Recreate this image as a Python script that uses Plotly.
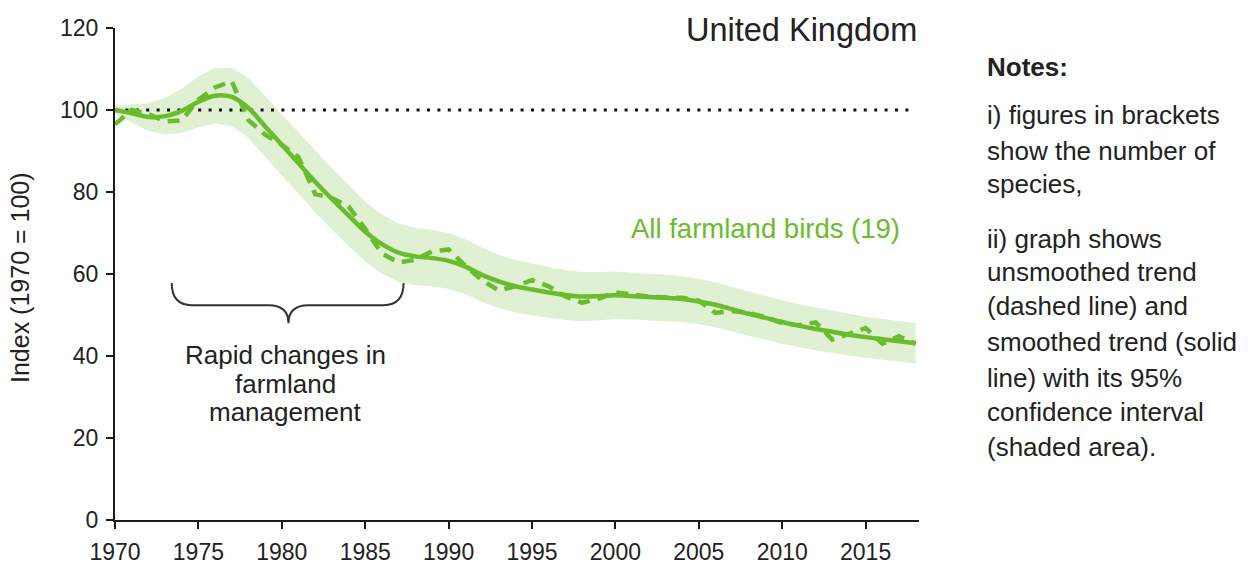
import plotly.graph_objects as go

# UK farmland bird index, 1970 = 100
years = list(range(1970, 2019))

smoothed = [100.0, 99.2, 98.3, 98.5, 99.8, 102.0, 103.5, 103.2, 100.5, 96.0,
            91.5, 87.0, 82.5, 78.3, 74.3, 70.3, 67.3, 65.2, 64.3, 63.9,
            63.2, 61.8, 59.8, 58.2, 57.0, 56.2, 55.5, 54.9, 54.5, 54.6,
            54.8, 54.6, 54.4, 54.2, 53.9, 53.3, 52.5, 51.4, 50.3, 49.3,
            48.3, 47.4, 46.6, 45.9, 45.2, 44.6, 44.1, 43.6, 43.1]

unsmoothed = [96.5, 100.0, 99.0, 97.2, 97.5, 102.5, 105.5, 107.0, 97.5, 94.0,
              91.5, 88.5, 79.5, 78.5, 76.5, 71.0, 65.0, 62.8, 63.5, 65.5,
              66.0, 62.0, 58.5, 56.0, 57.0, 58.5, 57.0, 54.5, 53.0, 54.0,
              55.5, 55.0, 54.5, 54.3, 54.2, 53.5, 50.5, 51.0, 50.5, 49.5,
              48.0, 47.5, 48.2, 44.0, 45.5, 46.8, 43.0, 44.8, 43.0]

ci_upper = [101.0, 101.4, 101.7, 103.0, 105.2, 108.2, 110.3, 110.3, 107.8, 103.4,
            99.0, 94.5, 90.0, 85.8, 81.7, 77.6, 74.5, 72.3, 71.3, 70.8,
            70.0, 68.5, 66.4, 64.7, 63.4, 62.5, 61.7, 61.0, 60.5, 60.5,
            60.6, 60.3, 60.1, 59.8, 59.5, 58.8, 58.0, 56.8, 55.7, 54.6,
            53.6, 52.6, 51.8, 51.0, 50.3, 49.6, 49.1, 48.5, 48.0]

ci_lower = [99.0, 97.0, 94.9, 94.0, 94.4, 95.8, 96.7, 96.1, 93.2, 88.6,
            84.0, 79.5, 75.0, 70.8, 66.9, 63.0, 60.1, 58.1, 57.3, 57.0,
            56.4, 55.1, 53.2, 51.7, 50.6, 49.9, 49.3, 48.8, 48.5, 48.7,
            49.0, 48.9, 48.7, 48.6, 48.3, 47.8, 47.0, 46.0, 44.9, 44.0,
            43.0, 42.2, 41.4, 40.8, 40.1, 39.6, 39.1, 38.7, 38.2]

baseline = 100
x_ticks = list(range(1970, 2016, 5))
y_ticks = list(range(0, 121, 20))

notes_lines = [
    ("<b>Notes:</b>", 67),
    ("i) figures in brackets", 115),
    ("show the number of", 151),
    ("species,", 184),
    ("ii) graph shows", 239),
    ("unsmoothed trend", 272),
    ("(dashed line) and", 306),
    ("smoothed trend (solid", 342),
    ("line) with its 95%", 378),
    ("confidence interval", 412),
    ("(shaded area).", 447),
]

GREEN = "#69BC2C"
BAND = "#E0F0D2"
INK = "#222222"
FONT = "Liberation Sans, Arial, sans-serif"

W, H = 1250, 566
ML, MR, MT, MB = 115, 331, 28, 46
plot_w = W - ML - MR
plot_h = H - MT - MB

fig = go.Figure()

# confidence band
fig.add_trace(go.Scatter(x=years, y=ci_lower, mode="lines",
                         line=dict(width=0, color=BAND), hoverinfo="skip",
                         showlegend=False))
fig.add_trace(go.Scatter(x=years, y=ci_upper, mode="lines", fill="tonexty",
                         fillcolor=BAND, line=dict(width=0, color=BAND),
                         hoverinfo="skip", showlegend=False))

# 1970 reference level
fig.add_trace(go.Scatter(x=[years[0], years[-1]], y=[baseline, baseline],
                         mode="lines",
                         line=dict(color="#111111", width=3, dash="3px,7.4px"),
                         hoverinfo="skip", showlegend=False))

# unsmoothed and smoothed trends
fig.add_trace(go.Scatter(x=years, y=unsmoothed, mode="lines",
                         line=dict(color=GREEN, width=4.5, dash="12px,8px"),
                         showlegend=False))
fig.add_trace(go.Scatter(x=years, y=smoothed, mode="lines",
                         line=dict(color=GREEN, width=4.5, shape="spline"),
                         showlegend=False))

# curly brace over the period of rapid change
brace = ("M 1973.4,57.8 Q 1973.4,52.4 1974.6,52.4 L 1979.2,52.4 "
         "Q 1980.4,52.4 1980.4,48.0 Q 1980.4,52.4 1981.6,52.4 "
         "L 1986.1,52.4 Q 1987.3,52.4 1987.3,57.8")
fig.add_shape(type="path", path=brace, xref="x", yref="y",
              line=dict(color="#333333", width=2))

annotations = []
for text, yv in [("Rapid changes in", 40.2), ("farmland", 33.2),
                 ("management", 26.3)]:
    annotations.append(dict(x=1980.2, y=yv, xref="x", yref="y", text=text,
                            showarrow=False, xanchor="center", yanchor="middle",
                            font=dict(family=FONT, size=26, color=INK)))

annotations.append(dict(x=2018.2, y=119.5, xref="x", yref="y",
                        text="United Kingdom", showarrow=False,
                        xanchor="right", yanchor="middle",
                        font=dict(family=FONT, size=32.5, color=INK)))

annotations.append(dict(x=2009.0, y=71.2, xref="x", yref="y",
                        text="All farmland birds (19)", showarrow=False,
                        xanchor="center", yanchor="middle",
                        font=dict(family=FONT, size=27.5, color=GREEN)))

annotations.append(dict(x=(20 - ML) / plot_w, y=(H - MB - 278) / plot_h,
                        xref="paper", yref="paper",
                        text="Index (1970 = 100)", textangle=-90,
                        showarrow=False, xanchor="center", yanchor="middle",
                        font=dict(family=FONT, size=25, color=INK)))

for text, py in notes_lines:
    annotations.append(dict(x=(985 - ML) / plot_w, y=(H - MB - py) / plot_h,
                            xref="paper", yref="paper", text=text,
                            showarrow=False, xanchor="left", yanchor="middle",
                            font=dict(family=FONT, size=26, color=INK)))

axis_common = dict(showline=True, linecolor="#1a1a1a", linewidth=2,
                   ticks="outside", ticklen=7, tickwidth=2, tickcolor="#1a1a1a",
                   showgrid=False, zeroline=False, automargin=False,
                   ticklabelstandoff=3,
                   tickfont=dict(family=FONT, size=23, color=INK))

fig.update_layout(
    width=W, height=H,
    margin=dict(l=ML, r=MR, t=MT, b=MB, pad=0, autoexpand=False),
    plot_bgcolor="white", paper_bgcolor="white",
    xaxis=dict(range=[1970, 2018.2], tickvals=x_ticks, **axis_common),
    yaxis=dict(range=[0, 120], tickvals=y_ticks, **axis_common),
    annotations=annotations,
    showlegend=False,
)

fig.write_html("out.html")
